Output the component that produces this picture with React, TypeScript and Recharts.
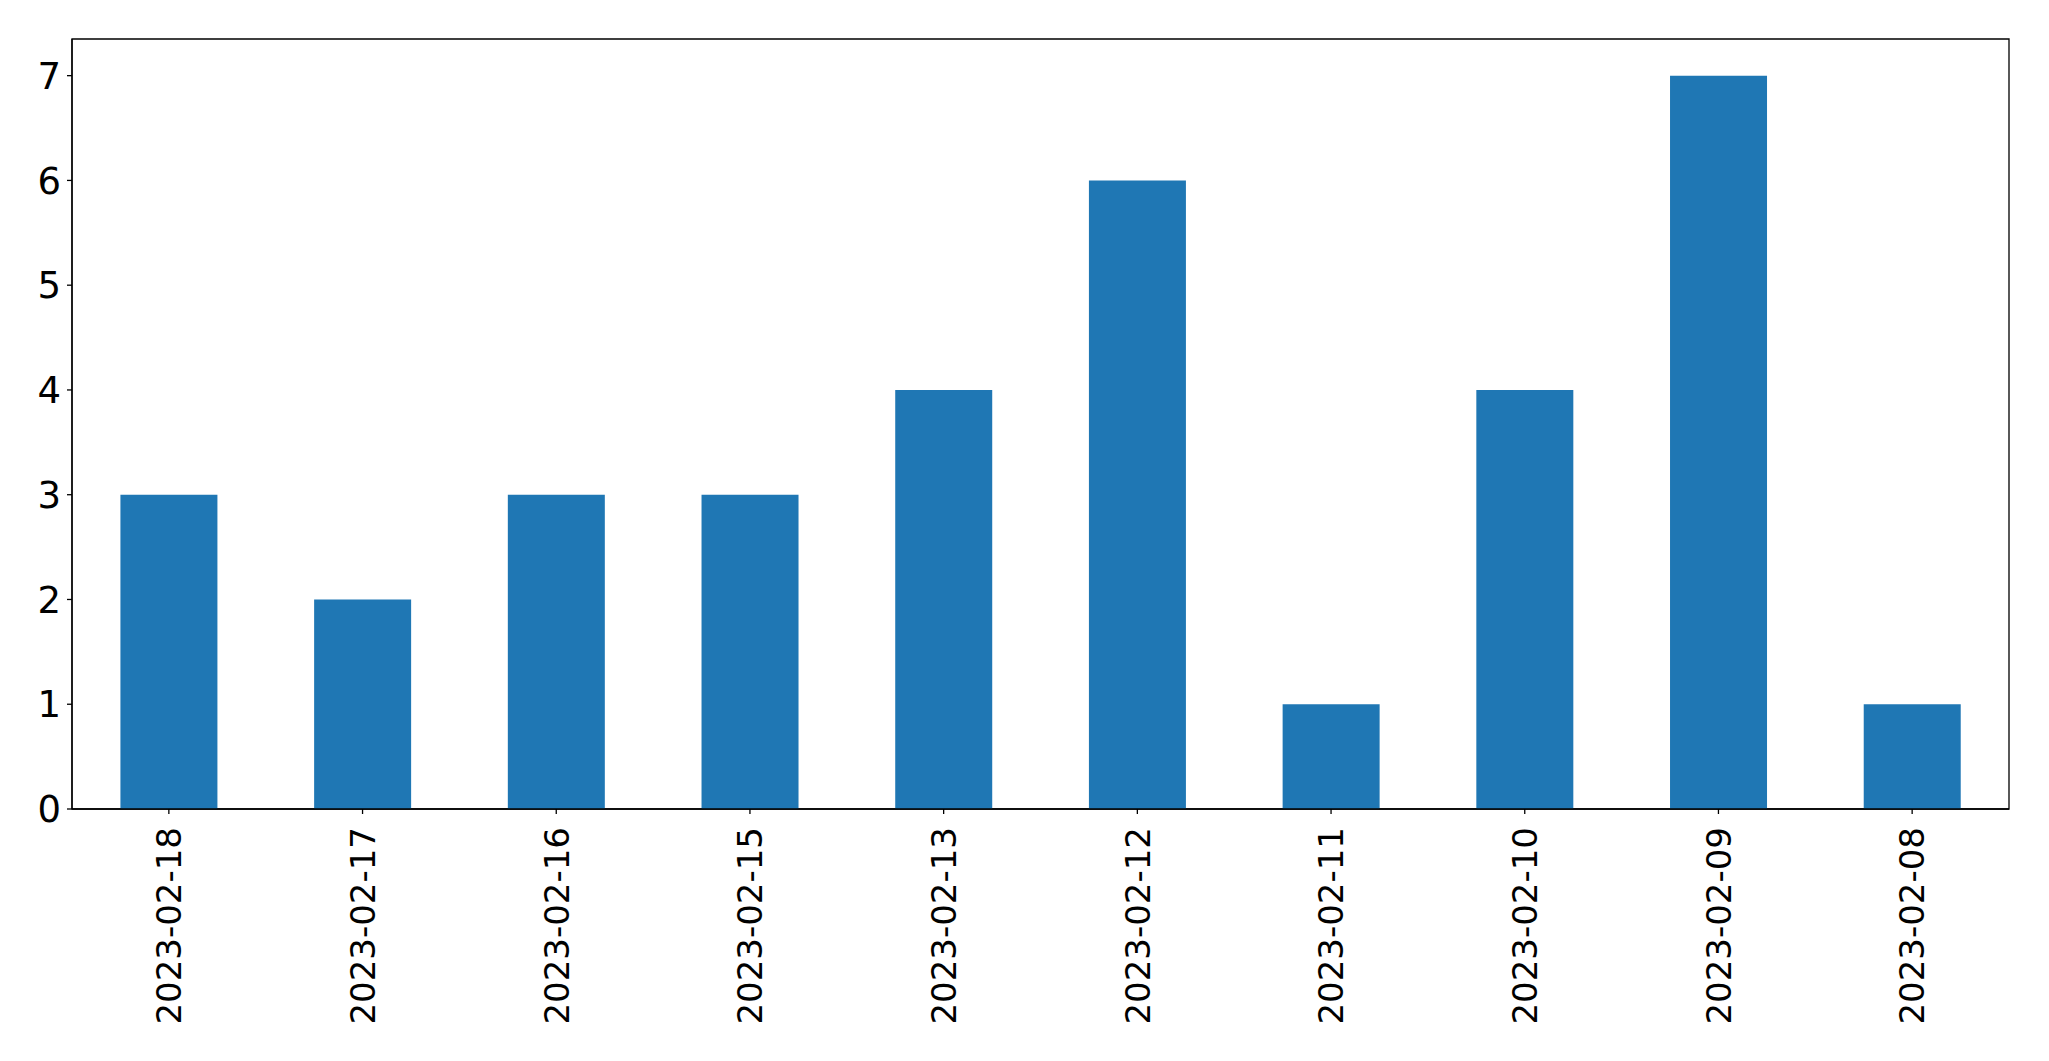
import { BarChart, Bar, XAxis, YAxis, ReferenceArea } from "recharts";

const dates = [
  "2023-02-18",
  "2023-02-17",
  "2023-02-16",
  "2023-02-15",
  "2023-02-13",
  "2023-02-12",
  "2023-02-11",
  "2023-02-10",
  "2023-02-09",
  "2023-02-08",
];
const counts = [3, 2, 3, 3, 4, 6, 1, 4, 7, 1];
const yTicks = [0, 1, 2, 3, 4, 5, 6, 7];
const yMax = 7.35;

const data = dates.map((date, i) => ({ date, count: counts[i] }));

const FONT = "DejaVu Sans";

function DateTick(props: any) {
  const { x, y, payload } = props;
  return (
    <text
      transform={`translate(${x},${y + 11}) rotate(-90)`}
      textAnchor="end"
      dy="0.36em"
      fontSize={34}
      fontFamily={FONT}
      fill="#000"
    >
      {payload.value}
    </text>
  );
}

export default function App() {
  return (
    <div style={{ position: "absolute", left: 0, top: 0, background: "#fff" }}>
      <BarChart
        width={2049}
        height={1061}
        data={data}
        margin={{ top: 39, right: 40, bottom: 0, left: 0 }}
        barCategoryGap="25%"
      >
        <XAxis
          dataKey="date"
          interval={0}
          height={252}
          tickSize={5}
          tickMargin={2}
          axisLine={{ stroke: "#000", strokeWidth: 1.3 }}
          tickLine={{ stroke: "#000", strokeWidth: 1.3 }}
          tick={<DateTick />}
        />
        <YAxis
          domain={[0, yMax]}
          ticks={yTicks}
          width={72}
          tickSize={5}
          tickMargin={6}
          axisLine={{ stroke: "#000", strokeWidth: 1.3 }}
          tickLine={{ stroke: "#000", strokeWidth: 1.3 }}
          tick={{ fontSize: 37, fontFamily: FONT, fill: "#000" }}
        />
        <Bar dataKey="count" fill="#1f77b4" isAnimationActive={false} />
        <ReferenceArea
          y1={0}
          y2={yMax}
          fill="none"
          fillOpacity={0}
          stroke="#000"
          strokeWidth={1.3}
          ifOverflow="visible"
        />
      </BarChart>
    </div>
  );
}
